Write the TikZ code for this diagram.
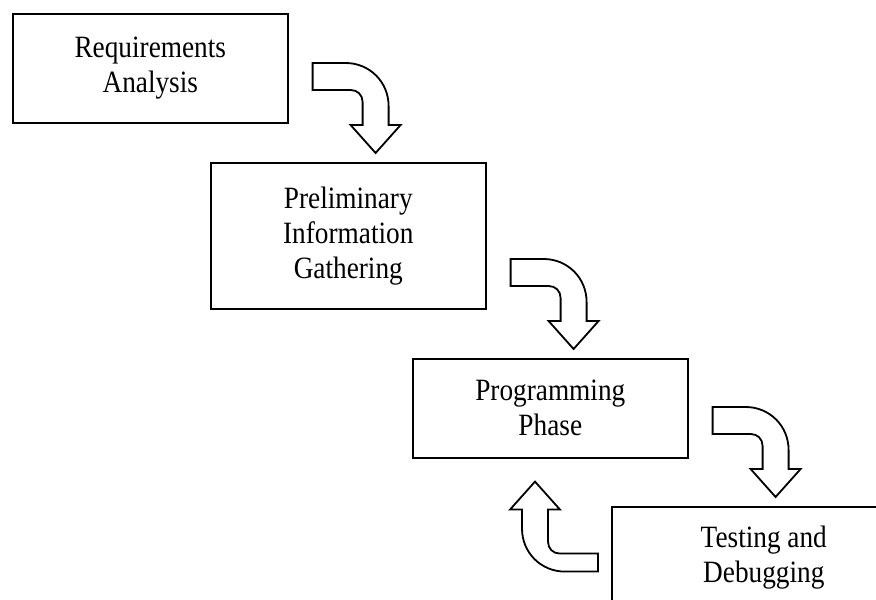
\documentclass[tikz,border=0pt]{standalone}
\usepackage{fontspec}
\setmainfont[FakeStretch=0.88]{Liberation Serif}
\begin{document}
\begin{tikzpicture}[x=1pt, y=1pt,
    stage/.style={draw, line width=1.6pt, anchor=north west, align=center,
      minimum width=275pt, font=\fontsize{31}{35}\selectfont},
    pics/bentarrow/.style={code={
      \filldraw[fill=white, line width=1.8pt]
        (0,0) -- (33,0) .. controls (57,0) and (76,-19) .. (76,-43)
        -- (76,-62) -- (88,-62) -- (63,-90) -- (38,-62) -- (50,-62)
        -- (50,{-#1-12}) .. controls (50,{-#1-5}) and (45,-#1) .. (38,-#1)
        -- (0,-#1) -- cycle;}}]
  \clip (0,0) rectangle (876,600);
  \node[stage, minimum height=109pt] (req) at (12,587) {Requirements\\Analysis};
  \node[stage, minimum height=146pt] (pre) at (210,438) {Preliminary\\Information\\Gathering};
  \node[stage, minimum height=99pt] (prog) at (412,242) {Programming\\Phase};
  \node[stage, minimum width=304pt, minimum height=102pt] (test) at (611,94) {Testing and\\Debugging};
  % arrows between the stages
  \path (req.east |- pre.north) ++(24,99) coordinate (a1);
  \path (pre.east |- prog.north) ++(24,99) coordinate (a2);
  \path (prog.east |- test.north) ++(24,99) coordinate (a3);
  \path (test.west |- prog.south) ++(-13,-113) coordinate (a4);
  \pic at (a1) {bentarrow=27};
  \pic at (a2) {bentarrow=27};
  \pic at (a3) {bentarrow=27};
  \pic[rotate=180] at (a4) {bentarrow=18};
\end{tikzpicture}
\end{document}
